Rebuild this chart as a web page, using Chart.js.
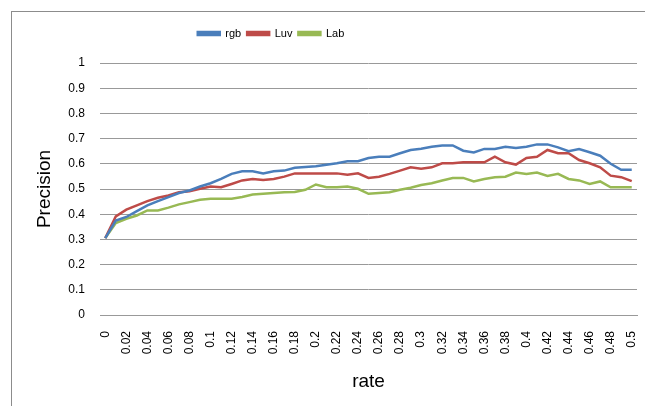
<!DOCTYPE html>
<html>
<head>
<meta charset="utf-8">
<script src="https://cdn.jsdelivr.net/npm/chart.js@4/dist/chart.umd.min.js"></script>
<style>
  html, body { margin: 0; padding: 0; background: #fff; overflow: hidden; }
  #wrap { position: relative; width: 645px; height: 406px; }
  #frame { position: absolute; left: 11px; top: 11px; width: 700px; height: 500px;
           border-left: 1px solid #8c8c8c; border-top: 1px solid #8c8c8c; pointer-events: none; }
  canvas { position: absolute; left: 0; top: 0; }
</style>
</head>
<body>
<div id="wrap">
  <canvas id="c" width="645" height="406"></canvas>
  <div id="frame"></div>
</div>
<script>
const categories = ['0','0.01','0.02','0.03','0.04','0.05','0.06','0.07','0.08','0.09',
  '0.1','0.11','0.12','0.13','0.14','0.15','0.16','0.17','0.18','0.19',
  '0.2','0.21','0.22','0.23','0.24','0.25','0.26','0.27','0.28','0.29',
  '0.3','0.31','0.32','0.33','0.34','0.35','0.36','0.37','0.38','0.39',
  '0.4','0.41','0.42','0.43','0.44','0.45','0.46','0.47','0.48','0.49','0.5'];

const rgb = [0.305,0.375,0.389,0.412,0.435,0.452,0.468,0.484,0.494,0.510,
  0.523,0.540,0.560,0.570,0.570,0.562,0.570,0.573,0.584,0.587,
  0.590,0.596,0.602,0.610,0.610,0.623,0.628,0.628,0.642,0.655,
  0.660,0.668,0.673,0.673,0.652,0.645,0.659,0.659,0.668,0.663,
  0.668,0.677,0.677,0.665,0.650,0.659,0.646,0.632,0.600,0.576,0.576];

const luv = [0.305,0.391,0.418,0.435,0.452,0.465,0.474,0.487,0.491,0.501,
  0.510,0.507,0.520,0.534,0.540,0.536,0.540,0.549,0.562,0.562,
  0.562,0.562,0.562,0.557,0.562,0.544,0.549,0.560,0.573,0.586,
  0.580,0.586,0.602,0.602,0.606,0.606,0.606,0.628,0.606,0.597,
  0.623,0.628,0.655,0.642,0.642,0.615,0.602,0.586,0.553,0.547,0.531];

const lab = [0.305,0.365,0.382,0.395,0.415,0.415,0.426,0.439,0.448,0.457,
  0.461,0.461,0.461,0.468,0.478,0.481,0.484,0.487,0.488,0.497,
  0.518,0.507,0.507,0.510,0.501,0.481,0.484,0.487,0.497,0.505,
  0.516,0.523,0.534,0.544,0.544,0.530,0.540,0.547,0.549,0.565,
  0.560,0.565,0.552,0.560,0.540,0.534,0.520,0.530,0.507,0.507,0.507];

const seriesNames = ['rgb', 'Luv', 'Lab'];
const seriesColors = ['#4A7EBB', '#BE4B48', '#98B954'];

const legendFont = { family: "'Liberation Sans', Arial, sans-serif", size: 11 };
const tickFont = { family: "'Liberation Sans', Arial, sans-serif", size: 12 };
const titleFont = { family: "'Liberation Sans', Arial, sans-serif", size: 19 };

const legendMover = {
  id: 'legendMover',
  afterLayout(chart) {
    const lg = chart.legend;
    if (!lg) return;
    lg.left = 0; lg.right = 542; lg.width = 542;
    lg.top = 22; lg.bottom = lg.top + lg.height;
  }
};

new Chart(document.getElementById('c'), {
  type: 'line',
  data: {
    labels: categories,
    datasets: [rgb, luv, lab].map((d, i) => ({
      label: seriesNames[i],
      data: d,
      borderColor: seriesColors[i],
      backgroundColor: seriesColors[i],
      borderWidth: 2.5,
      pointRadius: 0,
      tension: 0,
      fill: false
    }))
  },
  options: {
    responsive: false,
    animation: false,
    devicePixelRatio: 1,
    layout: { padding: { left: 0, right: 8, top: 36, bottom: 0 } },
    plugins: {
      legend: {
        position: 'top',
        labels: {
          font: legendFont, color: '#000',
          boxWidth: 22, boxHeight: 3, padding: 6
        }
      },
      tooltip: { enabled: false }
    },
    scales: {
      x: {
        type: 'category',
        offset: true,
        grid: { display: false },
        border: { display: true, color: '#999', width: 1 },
        ticks: {
          autoSkip: false, minRotation: 90, maxRotation: 90,
          font: tickFont, color: '#000', padding: 8,
          callback: function(v, i) { return i % 2 === 0 ? categories[i] : ''; }
        },
        title: { display: true, text: 'rate', font: titleFont, color: '#000',
                 padding: { top: 0, bottom: 13 } },
        afterFit(scale) { scale.height = 91; scale.paddingLeft = 0; scale.paddingRight = 0; }
      },
      y: {
        min: 0, max: 1,
        grid: { color: '#999', lineWidth: 1, drawTicks: false },
        border: { display: false },
        ticks: { stepSize: 0.1, font: tickFont, color: '#000', padding: 15,
                 callback: v => String(Math.round(v * 10) / 10) },
        title: { display: true, text: 'Precision', font: titleFont, color: '#000',
                 padding: { top: 33, bottom: 0 } },
        afterFit(scale) { scale.width = 100; scale.paddingTop = 0; scale.paddingBottom = 0; }
      }
    }
  },
  plugins: [legendMover]
});
</script>
</body>
</html>
